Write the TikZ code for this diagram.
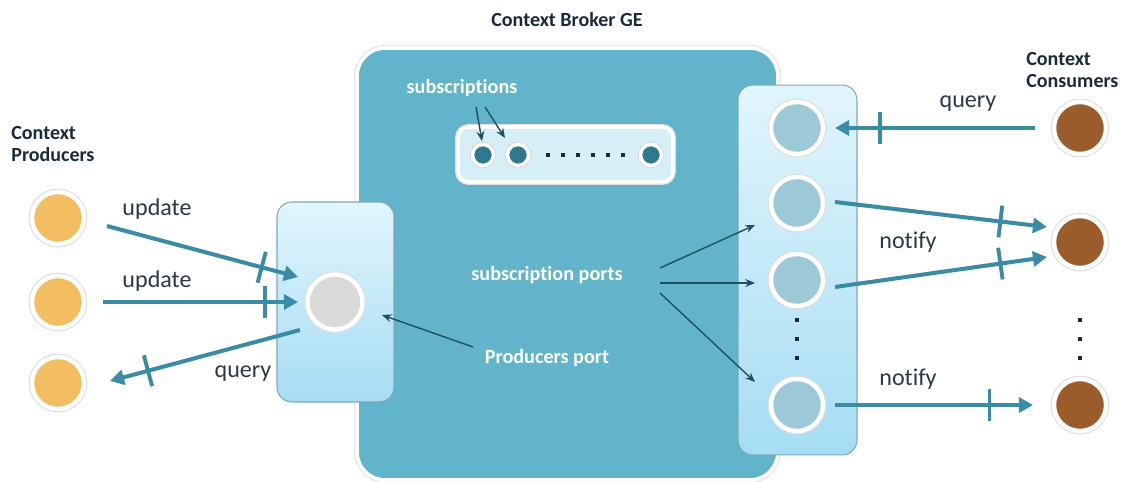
\documentclass[tikz,border=0pt]{standalone}
\usepackage{fontspec}
\setmainfont{Carlito}[Ligatures=NoCommon]
\usetikzlibrary{arrows.meta,calc}
\definecolor{brokerc}{HTML}{62B4CB}
\definecolor{flowc}{HTML}{3A8CA6}
\definecolor{darkc}{HTML}{1E4F63}
\definecolor{titlec}{HTML}{1B2A3A}
\definecolor{lblc}{HTML}{2B3845}
\definecolor{prodc}{HTML}{F2BE61}
\definecolor{consc}{HTML}{9A5C2A}
\definecolor{ppc}{HTML}{DADADA}
\definecolor{spc}{HTML}{9CC9D5}
\definecolor{subcc}{HTML}{2E7890}
\definecolor{barc}{HTML}{D6EEF6}
\definecolor{boxtop}{HTML}{E2F5FC}
\definecolor{boxbot}{HTML}{A6DDF4}
\definecolor{boxedge}{HTML}{7FA9BA}
\begin{document}
\begin{tikzpicture}[x=0.02cm,y=-0.02cm,
  bigbox/.style={rectangle, rounded corners=16pt, fill=brokerc, draw=white, line width=2pt,
    preaction={draw=black!9, line width=3.6pt}},
  portbox/.style={rectangle, rounded corners=8.5pt, top color=boxtop, bottom color=boxbot,
    draw=boxedge, line width=0.6pt},
  barbox/.style={rectangle, rounded corners=6pt, fill=barc, draw=white, line width=2pt,
    preaction={draw=black!12, line width=3.4pt}},
  ball/.style={circle, minimum size=1.04cm, inner sep=0pt, draw=white, line width=2.5pt,
    preaction={draw=black!13, line width=3.8pt}},
  prod/.style={ball, fill=prodc},
  cons/.style={ball, fill=consc},
  pport/.style={ball, fill=ppc, minimum size=1.1cm},
  sport/.style={ball, fill=spc},
  subc/.style={circle, minimum size=0.42cm, inner sep=0pt, fill=subcc, draw=white, line width=2pt,
    preaction={draw=black!15, line width=3.2pt}},
  flow/.style={draw=flowc, line width=2.3pt, -{Triangle[length=8pt,width=8.5pt]}},
  darrow/.style={draw=darkc, line width=0.8pt, -{Stealth[length=5.5pt,width=4.5pt]}},
  tick/.style={sloped, fill=flowc, minimum width=2.2pt, minimum height=0.64cm, inner sep=0pt, draw=none},
  lbl/.style={text=lblc, font=\fontsize{13.7}{16}\selectfont, inner sep=0pt},
  blbl/.style={text=white, font=\bfseries\fontsize{11.5}{13}\selectfont, inner sep=0pt},
  ttl/.style={text=titlec, font=\bfseries\fontsize{11.4}{12.6}\selectfont, inner sep=0pt, align=left},
]
\useasboundingbox (0,0) rectangle (1122,482);

% broker
\node[bigbox, minimum width=8.42cm, minimum height=8.64cm] (broker) at (567.5,264) {};
\node[ttl] (title) at (567,20) {Context Broker GE};

% subscriptions bar
\node[barbox, minimum width=4.3cm, minimum height=1.1cm] (bar) at (565.5,154.5) {};
\node[subc] (b1) at (483,155) {};
\node[subc] (b2) at (518,155) {};
\node[subc] (b3) at (651,155) {};
\foreach \x in {548,563,578,593,608,623} \fill[titlec] (\x-1.7,155-1.7) rectangle ++(3.4,3.4);
\node[blbl] (subs) at (462,88) {subscriptions};
\draw[darrow] ($(subs)+(14,19)$) -- ($(b1)+(-1,-14)$);
\draw[darrow] ($(subs)+(23,19)$) -- ($(b2)+(-13,-17)$);

% producers port
\node[portbox, minimum width=2.34cm, minimum height=4.0cm] (pbox) at (335.5,302) {};
\node[pport] (pp) at (335,302) {};

% subscription ports
\node[portbox, minimum width=2.38cm, minimum height=7.4cm] (sbox) at (797.5,270) {};
\node[sport] (s1) at (797,128) {};
\node[sport] (s2) at (797,203) {};
\node[sport] (s3) at (797,280) {};
\node[sport] (s4) at (797,405) {};
\foreach \y in {320,339,358} \fill[titlec] (797-2,\y-2) rectangle ++(4,4);

% inner labels
\node[blbl] (spl) at (547,275) {subscription ports};
\node[blbl] (ppl) at (547,358) {Producers port};
\draw[darrow] ($(spl)+(113,-7)$) -- ($(s2)+(-42,22)$);
\draw[darrow] ($(spl)+(113,8)$) -- ($(s3)+(-42,3)$);
\draw[darrow] ($(spl)+(113,18)$) -- ($(s4)+(-42,-23)$);
\draw[darrow] ($(ppl)+(-74,-11)$) -- ($(pp)+(47,13)$);

% producers
\node[ttl, anchor=north west] (ptitle) at (11,126) {Context\\Producers};
\node[prod] (p1) at (58,218) {};
\node[prod] (p2) at (58,302) {};
\node[prod] (p3) at (58,383) {};
\draw[flow] ($(p1)+(49,8)$) -- ($(pp)+(-37,-25)$) node[tick, pos=0.81] (t1) {};
\draw[flow] ($(p2)+(45,0)$) -- ($(pp)+(-37,0)$) node[tick, pos=0.83] (t2) {};
\draw[flow] ($(pp)+(-35,28)$) -- ($(p3)+(52,-2)$) node[tick, pos=0.80] (t3) {};
\node[lbl] (lu1) at (157,209) {update};
\node[lbl] (lu2) at (157,281) {update};
\node[lbl] (lq1) at (243,374) {query};

% consumers
\node[ttl, anchor=north west] (ctitle) at (1026,52) {Context\\Consumers};
\node[cons] (c1) at (1080,128) {};
\node[cons] (c2) at (1080,242) {};
\node[cons] (c3) at (1080,405) {};
\foreach \y in {320,339,358} \fill[titlec] (1080-2,\y-2) rectangle ++(4,4);
\draw[flow] ($(c1)+(-45,0)$) -- ($(s1)+(38,0)$) node[tick, pos=0.775] (t4) {};
\draw[flow] ($(s2)+(38,-1)$) -- ($(c2)+(-33,-15)$) node[tick, pos=0.78] (t5) {};
\draw[flow] ($(s3)+(38,7)$) -- ($(c2)+(-33,15)$) node[tick, pos=0.78] (t6) {};
\draw[flow] ($(s4)+(38,0)$) -- ($(c3)+(-47,0)$) node[tick, pos=0.78] (t7) {};
\node[lbl] (lq2) at (968,104) {query};
\node[lbl] (ln1) at (908,242) {notify};
\node[lbl] (ln2) at (908,379) {notify};
\end{tikzpicture}
\end{document}
